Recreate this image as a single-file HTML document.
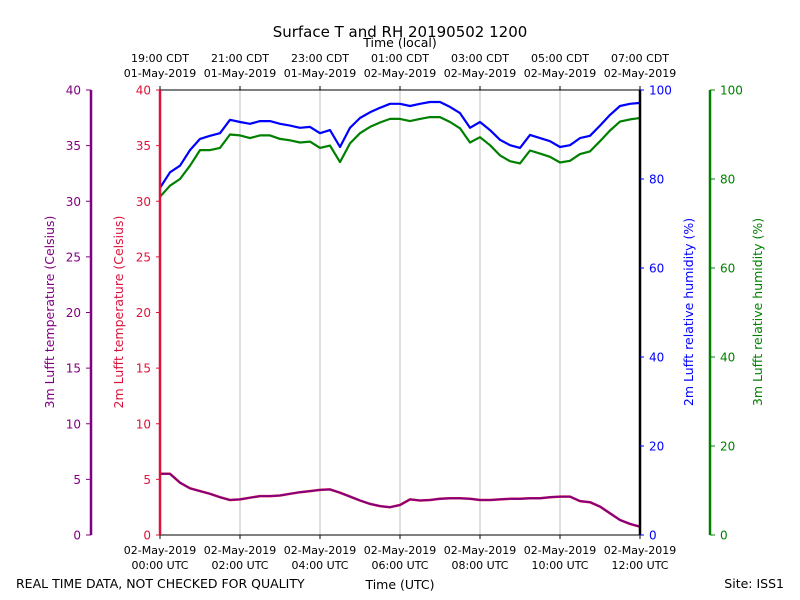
<!DOCTYPE html>
<html><head><meta charset="utf-8"><style>
html,body{margin:0;padding:0;background:#fff;width:800px;height:600px;overflow:hidden}
svg text{font-family:"DejaVu Sans","Liberation Sans",sans-serif}
</style></head><body>
<svg id="chart" width="800" height="600" xmlns="http://www.w3.org/2000/svg"></svg>
<script>
const hours=[0,0.25,0.5,0.75,1,1.25,1.5,1.75,2,2.25,2.5,2.75,3,3.25,3.5,3.75,4,4.25,4.5,4.75,5,5.25,5.5,5.75,6,6.25,6.5,6.75,7,7.25,7.5,7.75,8,8.25,8.5,8.75,9,9.25,9.5,9.75,10,10.25,10.5,10.75,11,11.25,11.5,11.75,12];
const rh2m=[78,81.5,83,86.5,89,89.7,90.3,93.3,92.8,92.4,93,93,92.4,92,91.5,91.7,90.3,91,87.2,91.5,93.7,95,96,96.9,96.9,96.4,96.9,97.3,97.3,96.2,94.8,91.5,92.8,91,88.8,87.6,87,89.9,89.2,88.5,87.2,87.6,89.2,89.7,92,94.4,96.4,96.9,97.1];
const rh3m=[76,78.5,80,83,86.5,86.5,87,90,89.8,89.2,89.8,89.8,89,88.7,88.2,88.4,87,87.5,83.8,88,90.3,91.7,92.7,93.5,93.5,93,93.5,93.9,93.9,92.8,91.4,88.2,89.4,87.6,85.3,84,83.5,86.4,85.7,85,83.7,84.1,85.6,86.2,88.5,90.9,92.9,93.4,93.7];
const t2m=[5.5,5.5,4.7,4.2,3.95,3.7,3.4,3.15,3.2,3.35,3.5,3.5,3.55,3.7,3.85,3.95,4.05,4.1,3.8,3.45,3.1,2.8,2.6,2.5,2.7,3.2,3.1,3.15,3.25,3.3,3.3,3.25,3.15,3.15,3.2,3.25,3.25,3.3,3.3,3.4,3.45,3.45,3.05,2.95,2.55,1.95,1.35,1.0,0.75];
const t3m=t2m.slice();
const tempTicks=[0,5,10,15,20,25,30,35,40];
const rhTicks=[0,20,40,60,80,100];
const utcTicks=[0,2,4,6,8,10,12];
const utcLabels=[["02-May-2019","00:00 UTC"],["02-May-2019","02:00 UTC"],["02-May-2019","04:00 UTC"],["02-May-2019","06:00 UTC"],["02-May-2019","08:00 UTC"],["02-May-2019","10:00 UTC"],["02-May-2019","12:00 UTC"]];
const localLabels=[["19:00 CDT","01-May-2019"],["21:00 CDT","01-May-2019"],["23:00 CDT","01-May-2019"],["01:00 CDT","02-May-2019"],["03:00 CDT","02-May-2019"],["05:00 CDT","02-May-2019"],["07:00 CDT","02-May-2019"]];

const L=160,R=640,T=90,B=535;
const xS=h=>L+(h/12)*(R-L);
const tS=v=>B-(v/40)*(B-T);
const rS=v=>B-(v/100)*(B-T);
const svg=document.getElementById('chart');
const NS='http://www.w3.org/2000/svg';
function mk(tag,attrs,txt){const e=document.createElementNS(NS,tag);for(const k in attrs)e.setAttribute(k,attrs[k]);if(txt!==undefined)e.textContent=txt;svg.appendChild(e);return e;}

utcTicks.forEach(h=>{if(h>0&&h<12){const g=mk('line',{x1:xS(h),x2:xS(h),y1:T,y2:B,stroke:'#b0b0b0','stroke-width':0.8});

}});

function line(vals,scale,color,name,w){
 const d=hours.map((h,i)=>(i?'L':'M')+xS(h).toFixed(1)+','+scale(vals[i]).toFixed(1)).join('');
 const p=mk('path',{d:d,fill:'none',stroke:color,'stroke-width':w,'stroke-linejoin':'round'});
 
 
}
line(rh3m,rS,'#008000','rh-3m-line',2.2);
line(rh2m,rS,'#0000ff','rh-2m-line',2.2);
line(t2m,tS,'#dc143c','temp-2m-line',2.5);
line(t3m,tS,'#800080','temp-3m-line',1.8);

mk('line',{x1:L,x2:R,y1:T,y2:T,stroke:'#000','stroke-width':1});
mk('line',{x1:L,x2:R,y1:B,y2:B,stroke:'#000','stroke-width':1});
mk('line',{x1:R,x2:R,y1:T,y2:B,stroke:'#000','stroke-width':2.5});
mk('line',{x1:L,x2:L,y1:T,y2:B,stroke:'#dc143c','stroke-width':2.5});
mk('line',{x1:91,x2:91,y1:T,y2:B,stroke:'#800080','stroke-width':2.5});
mk('line',{x1:710,x2:710,y1:T,y2:B,stroke:'#008000','stroke-width':2.5});

tempTicks.forEach(v=>{const y=tS(v);
 mk('line',{x1:L-4,x2:L,y1:y,y2:y,stroke:'#dc143c'});
 const a=mk('text',{x:L-9,y:y+4.5,'text-anchor':'end','font-size':12,fill:'#dc143c'},v);
 
 
 mk('line',{x1:86,x2:91,y1:y,y2:y,stroke:'#800080'});
 const b=mk('text',{x:81,y:y+4.5,'text-anchor':'end','font-size':12,fill:'#800080'},v);
 
 
});
rhTicks.forEach(v=>{const y=rS(v);
 mk('line',{x1:R,x2:R+4,y1:y,y2:y,stroke:'#0000ff'});
 const a=mk('text',{x:R+9,y:y+4.5,'font-size':12,fill:'#0000ff'},v);
 
 
 mk('line',{x1:710,x2:715,y1:y,y2:y,stroke:'#008000'});
 const b=mk('text',{x:720,y:y+4.5,'font-size':12,fill:'#008000'},v);
 
 
});
utcTicks.forEach((h,i)=>{const x=xS(h);
 mk('line',{x1:x,x2:x,y1:B,y2:B+4,stroke:'#000'});
 mk('line',{x1:x,x2:x,y1:T-4,y2:T,stroke:'#000'});
 const a=mk('text',{x:x,y:554,'text-anchor':'middle','font-size':11},utcLabels[i][0]);
 
 
 const b=mk('text',{x:x,y:569,'text-anchor':'middle','font-size':11},utcLabels[i][1]);
 
 
 const c=mk('text',{x:x,y:62,'text-anchor':'middle','font-size':11},localLabels[i][0]);
 
 
 const d=mk('text',{x:x,y:77,'text-anchor':'middle','font-size':11},localLabels[i][1]);
 
 
});

function txt(name,attrs,s){const e=mk('text',attrs,s);}
txt('chart-title',{x:400,y:37,'text-anchor':'middle','font-size':15},'Surface T and RH 20190502 1200');
txt('top-x-axis-title',{x:400,y:47,'text-anchor':'middle','font-size':12.5},'Time (local)');
txt('x-axis-title',{x:400,y:589,'text-anchor':'middle','font-size':12.5},'Time (UTC)');
txt('quality-note',{x:16,y:588,'font-size':12.5},'REAL TIME DATA, NOT CHECKED FOR QUALITY');
txt('site-label',{x:784,y:588,'text-anchor':'end','font-size':12.5},'Site: ISS1');
txt('temp-3m-axis-title',{x:0,y:0,transform:'translate(54,312) rotate(-90)','text-anchor':'middle','font-size':12.5,fill:'#800080'},'3m Lufft temperature (Celsius)');
txt('temp-2m-axis-title',{x:0,y:0,transform:'translate(123,312) rotate(-90)','text-anchor':'middle','font-size':12.5,fill:'#dc143c'},'2m Lufft temperature (Celsius)');
txt('rh-2m-axis-title',{x:0,y:0,transform:'translate(693,312) rotate(-90)','text-anchor':'middle','font-size':12.5,fill:'#0000ff'},'2m Lufft relative humidity (%)');
txt('rh-3m-axis-title',{x:0,y:0,transform:'translate(762,312) rotate(-90)','text-anchor':'middle','font-size':12.5,fill:'#008000'},'3m Lufft relative humidity (%)');
</script>
</body></html>
